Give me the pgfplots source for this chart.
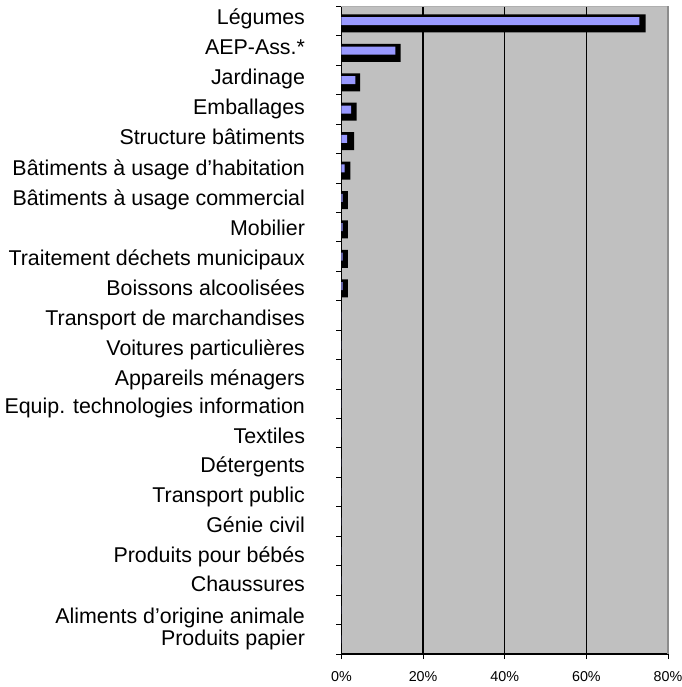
\documentclass[border=0pt]{standalone}
\usepackage{pgfplots}
\pgfplotsset{compat=1.18}
\usepackage{pgfplotstable}
\usepackage{fontspec}
\setmainfont{Liberation Sans}
\usetikzlibrary{calc}
\definecolor{barblue}{RGB}{153,153,255}
\definecolor{bggray}{RGB}{192,192,192}
\definecolor{topgray}{RGB}{175,175,175}
\definecolor{rightgray}{RGB}{140,140,140}

\pgfplotstableread{
i v s
0 73.0 74.5
1 13.2 14.5
2 3.4 4.6
3 2.4 3.7
4 1.4 3.1
5 0.8 2.2
6 0.3 1.6
7 0.3 1.6
8 0.3 1.6
9 0.3 1.6
10 0 0
11 0 0
12 0 0
13 0 0
14 0 0
15 0 0
16 0 0
17 0 0
18 0 0
19 0 0
20 0 0
21 0 0
}\data

\begin{document}
\begin{tikzpicture}
\begin{axis}[
  name=ax,
  scale only axis,
  width=326.8pt, height=648pt,
  xmin=0, xmax=80,
  ymin=-0.5, ymax=21.5,
  y dir=reverse,
  axis x line*=bottom, axis y line*=left,
  axis line style={line width=1.3pt, black, -},
  axis background/.style={fill=bggray},
  tick align=outside,
  xtick={0,20,40,60,80},
  xticklabels={0\%,20\%,40\%,60\%,80\%},
  xticklabel style={font=\fontsize{14.3}{16}\selectfont, yshift=-9pt},
  x tick style={line width=1pt, black},
  major tick length=5pt,
  ytick={-0.5,0.5,...,21.5},
  yticklabels={},
  y tick style={line width=1pt, black},
  extra y ticks={-0.09,0.93,1.95,2.97,3.99,5.04,6.07,7.09,8.11,9.13,10.15,11.17,12.19,13.14,14.16,15.15,16.17,17.19,18.21,19.19,20.28,21.03},
  extra y tick labels={Légumes,AEP-Ass.*,Jardinage,Emballages,Structure bâtiments,Bâtiments à usage d’habitation,Bâtiments à usage commercial,Mobilier,Traitement déchets municipaux,Boissons alcoolisées,Transport de marchandises,Voitures particulières,Appareils ménagers,Equip. technologies information,Textiles,Détergents,Transport public,Génie civil,Produits pour bébés,Chaussures,Aliments d’origine animale,Produits papier},
  extra y tick style={major tick length=0pt, yticklabel style={font=\fontsize{21.4}{25}\selectfont, text height=15.5pt, text depth=4.5pt, xshift=-33pt}},
  extra x ticks={20,40,60},
  extra x tick labels={},
  extra x tick style={grid=major, major grid style={black, line width=1.5pt}, major tick length=0pt},
  clip=false,
]
\addplot[xbar, bar width=18pt, bar shift=-2.2pt, fill=black, draw=none] table[x=s, y=i]{\data};
\addplot[xbar, bar width=8pt, bar shift=0pt, fill=barblue, draw=none] table[x=v, y=i]{\data};
\draw[topgray, line width=1pt] (axis cs:0,-0.5) -- (axis cs:80,-0.5);
\draw[rightgray, line width=1.8pt] (axis cs:80,-0.5) -- (axis cs:80,21.5);
\end{axis}
\pgfresetboundingbox
\path[use as bounding box] ($(ax.south west)+(-341.7pt,-33pt)$) rectangle ($(ax.north east)+(13.5pt,6.5pt)$);
\end{tikzpicture}
\end{document}
